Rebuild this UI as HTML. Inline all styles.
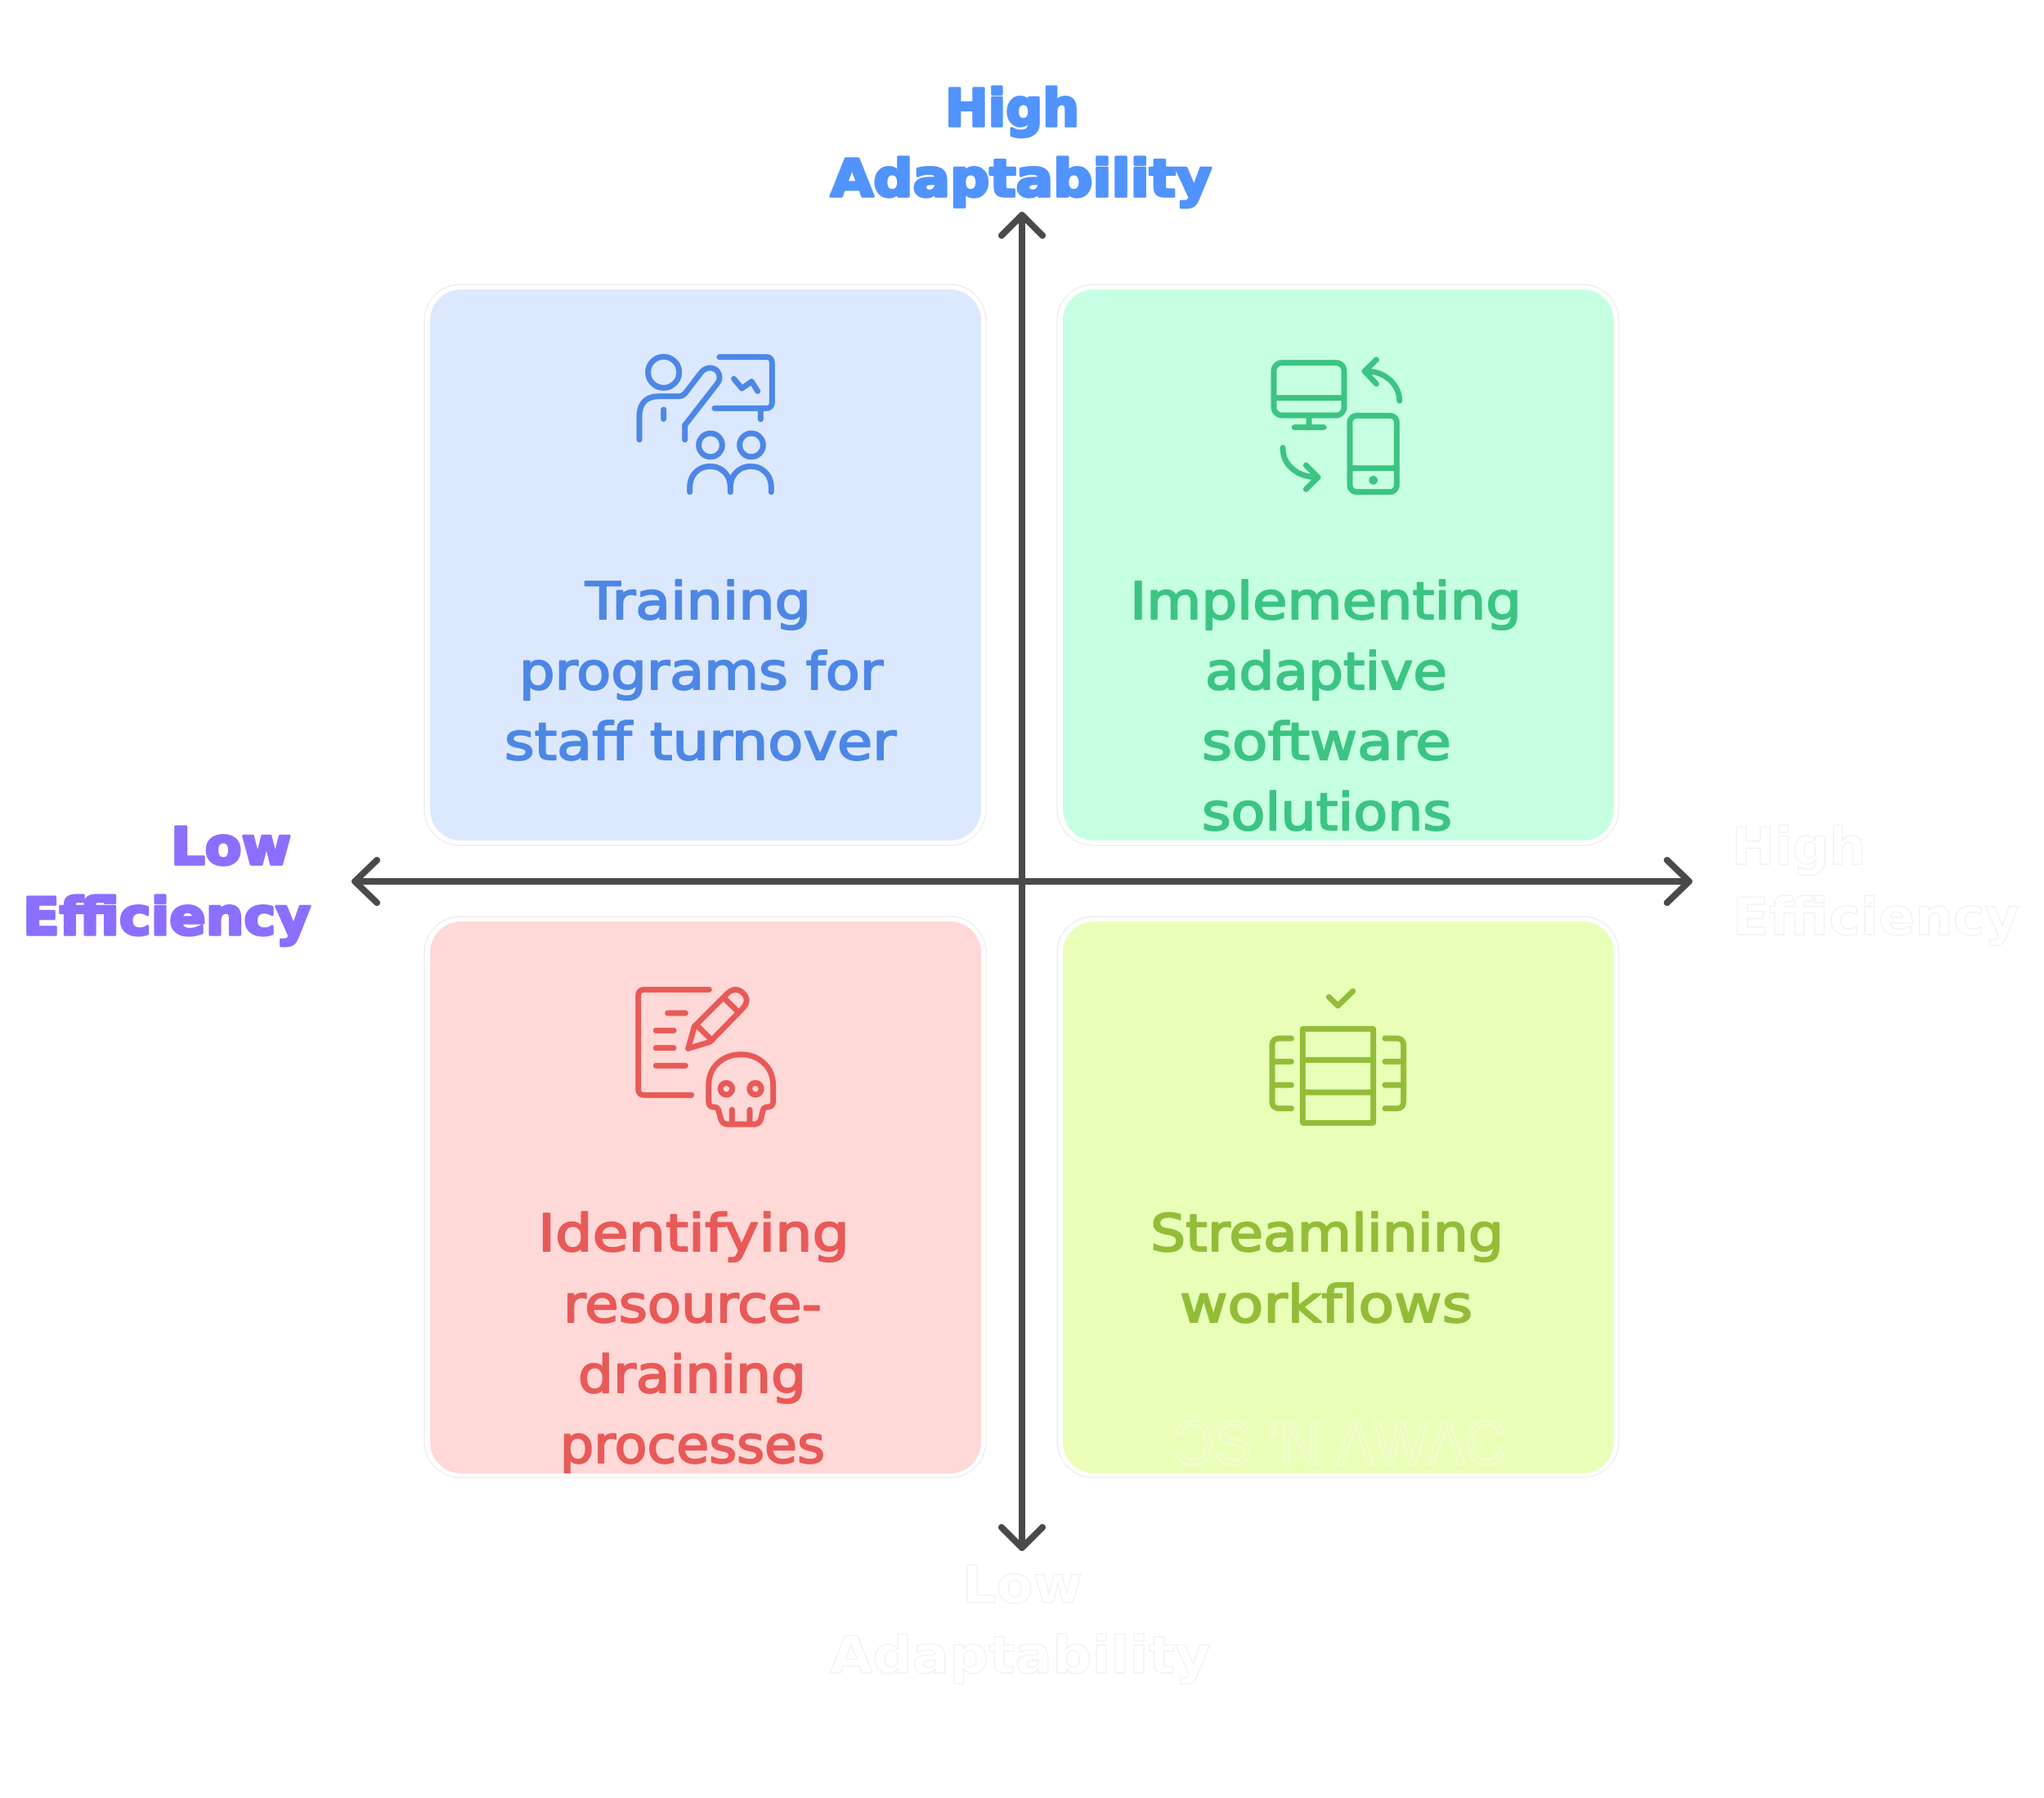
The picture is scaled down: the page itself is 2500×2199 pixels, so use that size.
<!DOCTYPE html>
<html lang="en">
<head>
<meta charset="utf-8">
<title>Efficiency and Adaptability Matrix</title>
<style>
html,body{margin:0;padding:0;background:#fff;width:2500px;height:2199px;overflow:hidden}
svg{display:block}
.b{font-family:"DejaVu Sans","Liberation Sans",sans-serif;font-size:63px;stroke-width:2px;stroke-linejoin:round;text-rendering:geometricPrecision}
.h{font-family:"DejaVu Sans","Liberation Sans",sans-serif;font-weight:bold;font-size:63px;stroke-width:3.5px;stroke-linejoin:round;text-rendering:geometricPrecision}
.ghost{fill:#fff;stroke:#f0f0f0;stroke-width:1.2px}
.card-o{fill:#fff;stroke:#ebebeb;stroke-width:1.2px}
.i{fill:none;stroke-width:21;stroke-linecap:round;stroke-linejoin:round}
.ax{fill:none;stroke:#4a4a4a;stroke-width:8;stroke-linecap:round;stroke-linejoin:round}
</style>
</head>
<body>
<svg xmlns="http://www.w3.org/2000/svg" width="2500" height="2199" viewBox="0 0 2500 2199">
<defs>
<clipPath id="c3"><rect x="526" y="1127" width="674" height="675" rx="38"/></clipPath>
</defs>
<rect width="2500" height="2199" fill="#fff"/>

<!-- cards -->
<rect class="card-o" x="519" y="348" width="687" height="686" rx="44"/>
<rect x="526" y="354" width="674" height="674" rx="38" fill="#dce8fe"/>
<rect class="card-o" x="1293" y="348" width="687" height="686" rx="44"/>
<rect x="1300" y="354" width="674" height="674" rx="38" fill="#c7ffe3"/>
<rect class="card-o" x="519" y="1121" width="687" height="686" rx="44"/>
<rect x="526" y="1127" width="674" height="675" rx="38" fill="#ffd8d8"/>
<rect class="card-o" x="1293" y="1121" width="687" height="686" rx="44"/>
<rect x="1300" y="1127" width="674" height="675" rx="38" fill="#e9ffb8"/>

<!-- watermark -->
<text x="1435" y="1791" font-family="Liberation Sans, sans-serif" font-size="76" fill="none" stroke="#f2fccf" stroke-width="2.5" textLength="407" lengthAdjust="spacingAndGlyphs">ƆS ’N ΛWΛC</text>

<!-- axes -->
<path class="ax" d="M436 1078H2064M461 1052L434 1078L461 1104M2039 1052L2066 1078L2039 1104"/>
<path class="ax" d="M1250 264V1892M1225 288L1250 263L1275 288M1225 1868L1250 1893L1275 1868"/>

<!-- axis labels -->
<g class="h" fill="#5193ff" stroke="#5193ff" transform="translate(0 -3)">
<text x="1156" y="157" textLength="164" lengthAdjust="spacingAndGlyphs">High</text>
<text x="1016" y="243" textLength="466" lengthAdjust="spacingAndGlyphs">Adaptability</text>
</g>
<g class="h" fill="#8b6fff" stroke="#8b6fff" transform="translate(-1 -3)">
<text x="210" y="1060" textLength="147" lengthAdjust="spacingAndGlyphs">Low</text>
<text x="29" y="1146" textLength="352" lengthAdjust="spacingAndGlyphs">Efficiency</text>
</g>
<g class="h" transform="translate(-1 -3)">
<text class="ghost" x="2119" y="1060" textLength="164" lengthAdjust="spacingAndGlyphs">High</text>
<text class="ghost" x="2120" y="1146" textLength="351" lengthAdjust="spacingAndGlyphs">Efficiency</text>
<text class="ghost" x="1178" y="1963" textLength="147" lengthAdjust="spacingAndGlyphs">Low</text>
<text class="ghost" x="1016" y="2049" textLength="466" lengthAdjust="spacingAndGlyphs">Adaptability</text>
</g>

<!-- body text -->
<g class="b" fill="#4d87e6" stroke="#4d87e6" transform="translate(-2 -2)">
<text x="718" y="759" textLength="276" lengthAdjust="spacingAndGlyphs">Training</text>
<text x="637" y="845" textLength="445" lengthAdjust="spacingAndGlyphs">programs for</text>
<text x="619" y="931" textLength="479" lengthAdjust="spacingAndGlyphs">staff turnover</text>
</g>
<g class="b" fill="#3cc483" stroke="#3cc483" transform="translate(-3 -2)">
<text x="1385" y="759" textLength="479" lengthAdjust="spacingAndGlyphs">Implementing</text>
<text x="1477" y="845" textLength="296" lengthAdjust="spacingAndGlyphs">adaptive</text>
<text x="1473" y="931" textLength="305" lengthAdjust="spacingAndGlyphs">software</text>
<text x="1473" y="1017" textLength="306" lengthAdjust="spacingAndGlyphs">solutions</text>
</g>
<g clip-path="url(#c3)">
<g class="b" fill="#e85a58" stroke="#e85a58" transform="translate(-2 -2)">
<text x="660" y="1532" textLength="381" lengthAdjust="spacingAndGlyphs">Identifying</text>
<text x="691" y="1619" textLength="316" lengthAdjust="spacingAndGlyphs">resource-</text>
<text x="709" y="1705" textLength="279" lengthAdjust="spacingAndGlyphs">draining</text>
<text x="687" y="1791" textLength="324" lengthAdjust="spacingAndGlyphs">processes</text>
</g>
</g>
<g class="b" fill="#93bd38" stroke="#93bd38" transform="translate(-3 -2)">
<text x="1410" y="1532" textLength="432" lengthAdjust="spacingAndGlyphs">Streamlining</text>
<text x="1446" y="1619" textLength="358" lengthAdjust="spacingAndGlyphs">workflows</text>
</g>

<!-- icon: training -->
<g class="i" stroke="#4d87e6" transform="translate(740 400) scale(.33333)">
<circle cx="215" cy="166" r="57"/>
<path d="M126 413V330Q126 254 200 254H270Q285 254 295 242L350 170C375 135 420 150 420 185Q420 197 412 207L293 360V413"/>
<path d="M215 303V337"/>
<path d="M420 110H590Q613 110 613 133V275Q613 298 590 298H402"/>
<path d="M571 298V338"/>
<path d="M473 190L502 225L538 200L560 235"/>
<circle cx="387" cy="433" r="43"/>
<circle cx="537" cy="433" r="43"/>
<path d="M311 605V590C311 485 460 485 460 590V605M460 590C460 485 610 485 610 590V605"/>
</g>

<!-- icon: devices -->
<g class="i" stroke="#3cc483" transform="translate(1520 400) scale(.33333)">
<rect x="114" y="131" width="258" height="193" rx="30"/>
<path d="M114 260H372M243 324V368M190 368H297"/>
<rect x="393" y="325" width="172" height="280" rx="25"/>
<path d="M393 518H565"/>
<circle cx="479" cy="562" r="16" fill="#3cc483" stroke="none"/>
<path d="M575 270C575 210 520 160 448 162M490 120L447 162L490 208"/>
<path d="M147 443C147 510 205 552 276 551M232 507L276 551L232 595"/>
</g>

<!-- icon: document + skull -->
<g class="i" stroke="#e85a58" transform="translate(740 1180) scale(.33333)">
<path d="M382 91H145Q122 91 122 114V455Q122 478 145 478H317"/>
<path d="M230 177H295M187 241H252M187 305H252M187 370H295"/>
<path d="M305 307L328 226L450 104Q480 78 508 105Q532 130 505 160L385 283Z"/>
<path d="M440 125L488 172M337 222L392 277"/>
<path d="M380 500V445C380 290 617 290 617 445V500Q617 522 595 522Q580 522 578 540L572 565Q567 585 545 585H452Q430 585 425 565L418 540Q415 522 400 522Q380 522 380 500Z"/>
<circle cx="445" cy="455" r="21.5"/>
<circle cx="552" cy="455" r="21.5"/>
<path d="M466 532V578M531 532V578"/>
</g>

<!-- icon: workflow -->
<g class="i" stroke="#93bd38" transform="translate(1520 1180) scale(.33333)">
<path d="M316 118L349 150L404 97"/>
<rect x="220" y="235" width="259" height="345" rx="2"/>
<path d="M220 349H479M220 468H479"/>
<path d="M178 270H135Q108 270 108 297V500Q108 527 135 527H178M108 355H178M108 441H178"/>
<path d="M522 270H565Q590 270 590 297V500Q590 527 565 527H522M522 355H590M522 441H590"/>
</g>
</svg>
</body>
</html>
